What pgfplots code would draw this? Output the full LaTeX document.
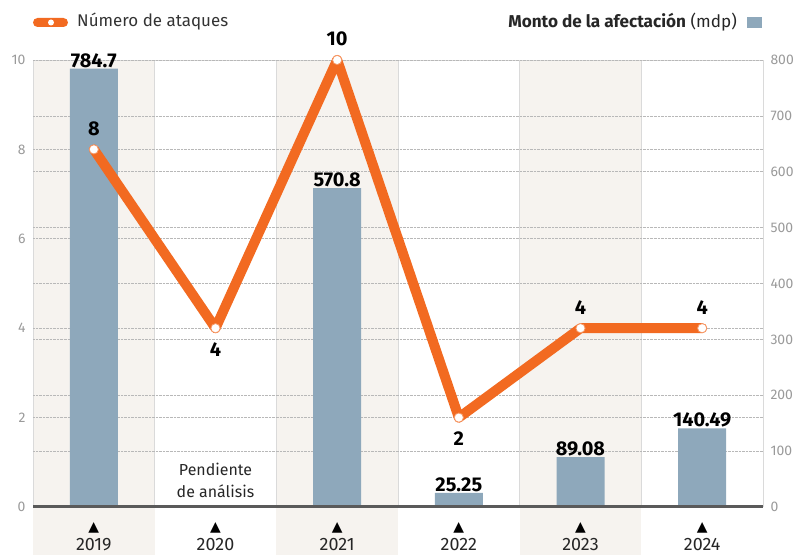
\documentclass[border=0pt]{standalone}
\usepackage{fontspec}
\setmainfont{Fira Sans}
\newfontfamily\dejavu{DejaVu Sans}
\usepackage{pgfplots}
\pgfplotsset{compat=1.18}
\definecolor{barblue}{HTML}{8EA8BB}
\definecolor{orng}{HTML}{F26A21}
\definecolor{colshade}{HTML}{F6F3EF}
\definecolor{tickgray}{HTML}{9A9A9A}
\definecolor{framegray}{HTML}{DADADA}
\definecolor{basegray}{HTML}{5A5A5A}
\begin{document}
\begin{tikzpicture}[x=1bp,y=1bp]
\useasboundingbox (0,0) rectangle (801,555);
% shaded columns
\fill[colshade] (33,0) rectangle (154.67,495);
\fill[colshade] (276.33,0) rectangle (398,495);
\fill[colshade] (519.67,0) rectangle (641.33,495);
% frame and column separators
\draw[framegray, line width=0.8bp] (33,48) -- (33,495) -- (763,495) -- (763,48);
\foreach \xx in {154.67,276.33,398,519.67,641.33} \draw[framegray, line width=0.8bp] (\xx,48) -- (\xx,495);
% legends
\fill[orng, rounded corners=4.5bp] (33,528) rectangle (68,537);
\fill[white] (51,532.5) circle (3bp);
\node[anchor=west, font=\fontsize{17}{17}\selectfont, text=black!80, inner sep=0pt] at (77,533) {Número de ataques};
\fill[barblue] (747,527) rectangle (762,538);
\node[anchor=east, font=\fontsize{17.2}{17.2}\selectfont, text=black!85, inner sep=0pt] at (737,533) {\textbf{Monto de la afectación} (mdp)};

\begin{axis}[
  at={(33bp,48bp)}, anchor=south west, scale only axis,
  width=730bp, height=447bp,
  xmin=-0.5, xmax=5.5, ymin=0, ymax=800,
  axis line style={draw=none}, tick style={draw=none},
  ytick={0,100,...,800}, yticklabel pos=right,
  ymajorgrids, grid style={densely dotted, black!28, line width=0.7bp},
  extra y ticks={160,320,480,640}, extra y tick labels={},
  extra y tick style={grid=major},
  xtick={0,...,5}, xticklabels={▲,▲,▲,▲,▲,▲},
  xticklabel style={font=\dejavu\fontsize{14}{14}\selectfont, text=black, anchor=center, yshift=-17bp},
  yticklabel style={font=\fontsize{14}{14}\selectfont, text=tickgray, anchor=west, xshift=4bp},
  /pgf/number format/assume math mode=true,
  ybar, bar width=48bp,
  clip=false,
]
\addplot[fill=barblue, draw=none,
  nodes near coords={\textbf{\pgfplotspointmeta}},
  point meta=explicit symbolic,
  every node near coord/.append style={font=\fontsize{20}{20}\selectfont, text=black, inner sep=1bp}]
  coordinates {(0,784.7)[784.7] (2,570.8)[570.8] (3,25.25)[25.25] (4,89.08)[89.08] (5,140.49)[140.49]};
\end{axis}

\draw[basegray, line width=3bp] (33,48) -- (763,48);

\begin{axis}[
  at={(33bp,48bp)}, anchor=south west, scale only axis,
  width=730bp, height=447bp,
  xmin=-0.5, xmax=5.5, ymin=0, ymax=10,
  axis line style={draw=none}, tick style={draw=none},
  ytick={0,2,...,10}, yticklabel pos=left,
  xtick={0,...,5}, xticklabels={2019,2020,2021,2022,2023,2024},
  xticklabel style={font=\fontsize{18}{18}\selectfont, text=black!85, anchor=center, yshift=-38bp},
  yticklabel style={font=\fontsize{14}{14}\selectfont, text=tickgray, anchor=east, xshift=-4bp},
  /pgf/number format/assume math mode=true,
  clip=false,
]
\addplot[orng, line width=10bp, line join=round, line cap=round, mark=none]
  coordinates {(0,8) (1,4) (2,10) (3,2) (4,4) (5,4)};
\addplot[only marks, mark=*, mark size=4.6bp, mark options={fill=white, draw=orng!70, line width=0.8bp}]
  coordinates {(0,8) (1,4) (2,10) (3,2) (4,4) (5,4)};
\addplot[draw=none, mark=none, nodes near coords={\textbf{\pgfplotspointmeta}},
  point meta=explicit symbolic,
  every node near coord/.append style={font=\fontsize{20}{20}\selectfont, text=black, anchor=center, yshift=21bp}]
  coordinates {(0,8)[8] (2,10)[10] (4,4)[4] (5,4)[4]};
\addplot[draw=none, mark=none, nodes near coords={\textbf{\pgfplotspointmeta}},
  point meta=explicit symbolic,
  every node near coord/.append style={font=\fontsize{20}{20}\selectfont, text=black, anchor=center, yshift=-21bp}]
  coordinates {(1,4)[4] (3,2)[2]};
\node[align=center, font=\fontsize{16}{22}\selectfont, text=black!85] at (axis cs:1,0.6) {Pendiente\\de análisis};
\end{axis}
\end{tikzpicture}
\end{document}
